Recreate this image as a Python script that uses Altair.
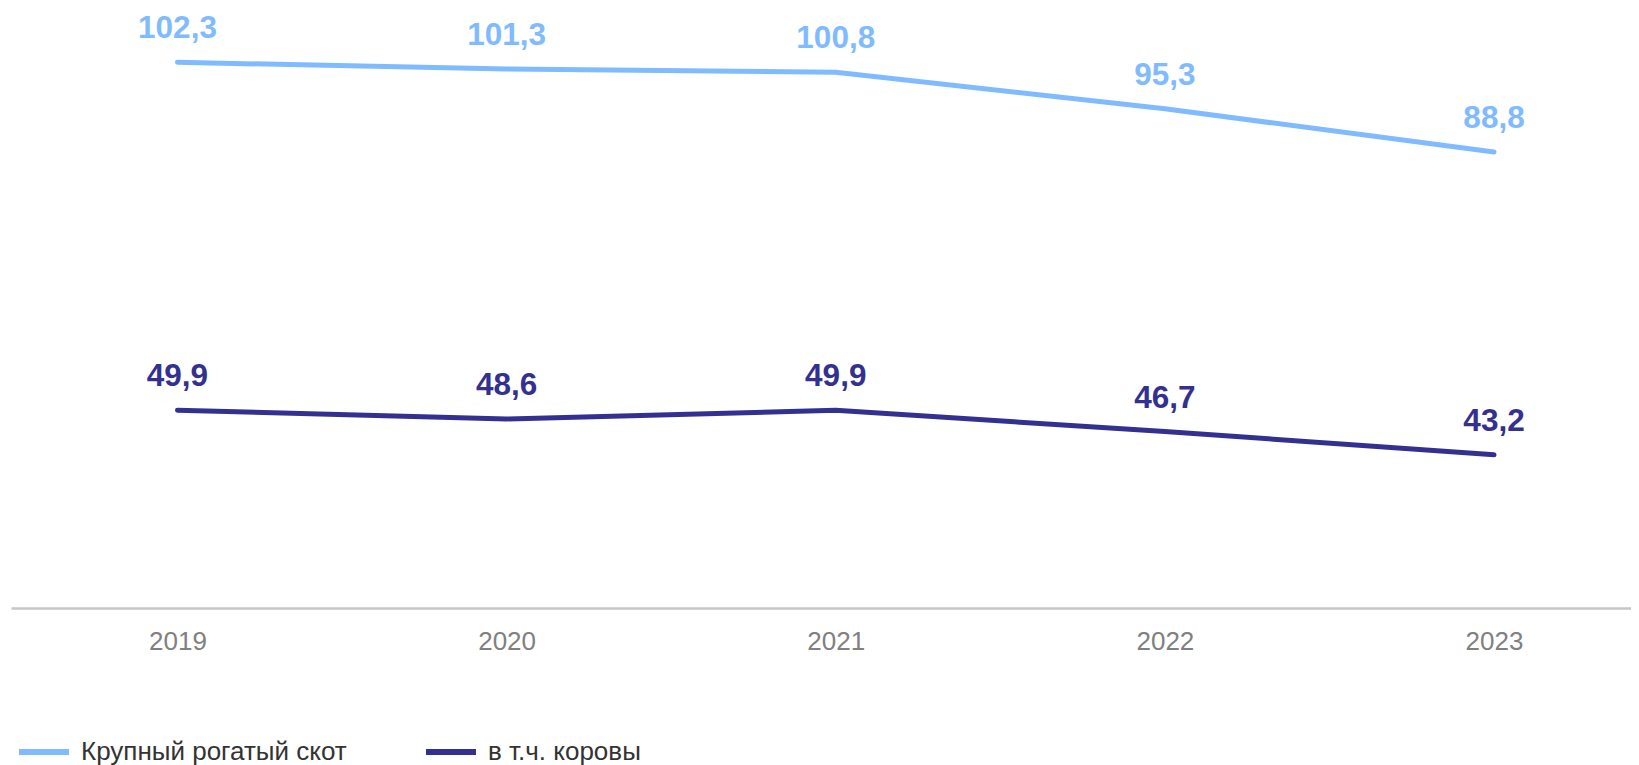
import altair as alt
import pandas as pd

years = ["2019", "2020", "2021", "2022", "2023"]
cattle = [102.3, 101.3, 100.8, 95.3, 88.8]
cows = [49.9, 48.6, 49.9, 46.7, 43.2]
series_names = ["Крупный рогатый скот", "в т.ч. коровы"]
colors = ["#80BBFF", "#333092"]

rows = []
for name, vals in zip(series_names, [cattle, cows]):
    for yr, v in zip(years, vals):
        rows.append({"year": yr, "value": v, "series": name,
                     "label": f"{v:.1f}".replace(".", ",")})
df = pd.DataFrame(rows)

x = alt.X(
    "year:O",
    scale=alt.Scale(type="point", padding=0.461, align=0.5486),
    axis=alt.Axis(title=None, labelAngle=0, ticks=False, tickSize=0, grid=False,
                  domainColor="#c6c6c6", domainWidth=2.5,
                  labelFont="Liberation Sans", labelFontSize=26, labelColor="#808080",
                  labelPadding=41, labelBaseline="alphabetic"),
)
y = alt.Y("value:Q", scale=alt.Scale(domain=[20.13, 110.48], nice=False, zero=False), axis=None)
color = alt.Color(
    "series:N",
    scale=alt.Scale(domain=series_names, range=colors),
    legend=alt.Legend(orient="none", legendX=5, legendY=716, direction="horizontal",
                      title=None, symbolType="stroke", symbolSize=2500,
                      symbolStrokeWidth=6, labelFontSize=26, labelFont="Liberation Sans",
                      labelColor="#333333", labelOffset=9, columnPadding=67,
                      padding=0, labelLimit=0, symbolOpacity=1),
)

base = alt.Chart(df)
lines = base.mark_line(strokeWidth=5, strokeCap="round", strokeJoin="round").encode(
    x=x, y=y, color=color, detail="series:N")
labels = base.mark_text(dy=-24, baseline="alphabetic", fontSize=31.5, fontWeight="bold",
                        font="Liberation Sans").encode(
    x=x, y=y, text="label:N", color=color)

chart = (lines + labels).properties(
    width=1620, height=600,
    padding={"left": 3, "top": 0, "right": 0, "bottom": 157},
    autosize=alt.AutoSizeParams(type="none"),
).configure_view(stroke=None)

chart.save("out.html", embed_options={"renderer": "svg", "actions": False})
